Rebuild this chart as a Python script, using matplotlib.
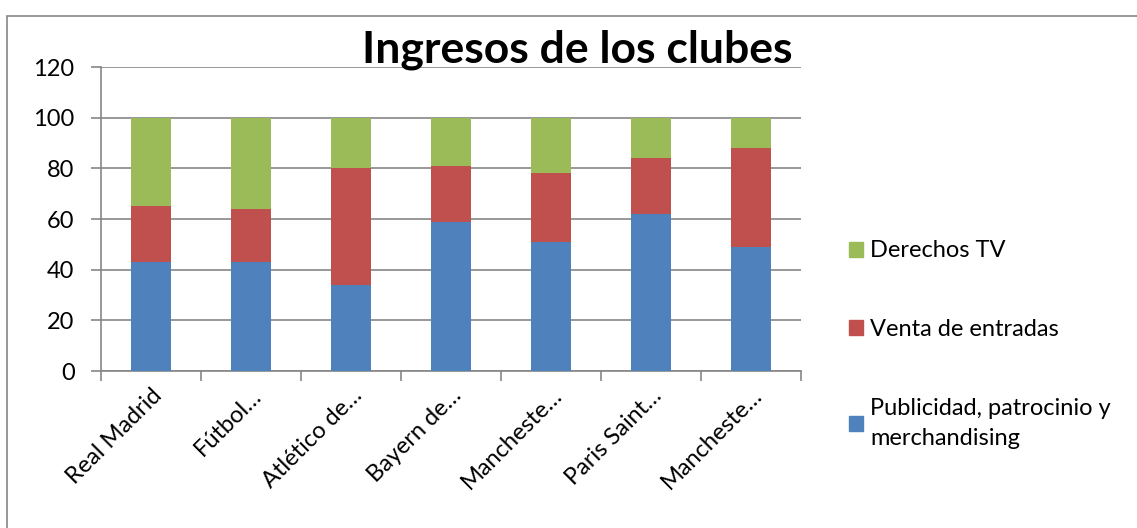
import matplotlib
matplotlib.use("Agg")
import matplotlib.pyplot as plt
from matplotlib.patches import Rectangle, Patch
import numpy as np

plt.rcParams['font.family'] = ['Lato', 'DejaVu Sans']

clubs = ["Real Madrid", "Fútbol…", "Atlético de…", "Bayern de…", "Mancheste…", "Paris Saint…", "Mancheste…"]
publicidad = [43, 43, 34, 59, 51, 62, 49]
entradas = [22, 21, 46, 22, 27, 22, 39]
derechos_tv = [35, 36, 20, 19, 22, 16, 12]
series_names = ["Publicidad, patrocinio y\nmerchandising", "Venta de entradas", "Derechos TV"]
colors = ["#4F81BD", "#C0504D", "#9BBB59"]
yticks = [0, 20, 40, 60, 80, 100, 120]

fig = plt.figure(figsize=(11.37, 5.28), dpi=100)
ax = fig.add_axes([0.0888, 0.2973, 0.6157, 0.5758])

x = np.arange(len(clubs))
ax.bar(x, publicidad, 0.4, color=colors[0], zorder=3)
ax.bar(x, entradas, 0.4, bottom=publicidad, color=colors[1], zorder=3)
bottom3 = np.array(publicidad) + np.array(entradas)
ax.bar(x, derechos_tv, 0.4, bottom=bottom3, color=colors[2], zorder=3)

ax.set_xlim(-0.5, len(clubs) - 0.5)
ax.set_ylim(0, 120)
ax.set_yticks(yticks)
ax.set_yticklabels([str(v) for v in yticks], fontsize=17)
ax.yaxis.grid(True, color="#868686", linewidth=1.2, zorder=0)
ax.set_axisbelow(True)

ax.set_xticks(np.arange(len(clubs) + 1) - 0.5)
ax.set_xticklabels([])
ax.set_xticks(x, minor=True)
ax.set_xticklabels(clubs, minor=True, rotation=45, ha="right", rotation_mode="anchor", fontsize=17)
ax.tick_params(axis="x", which="minor", length=0, pad=10)
ax.tick_params(axis="x", which="major", length=7, color="#868686", width=1.2)
ax.tick_params(axis="y", length=7, color="#868686", width=1.2, pad=12)

for s in ["top", "right"]:
    ax.spines[s].set_visible(False)
for s in ["left", "bottom"]:
    ax.spines[s].set_color("#868686")
    ax.spines[s].set_linewidth(1.2)

fig.text(0.508, 0.905, "Ingresos de los clubes", fontsize=32, fontweight="bold", ha="center", va="center")

handles = [Patch(color=colors[2]), Patch(color=colors[1]), Patch(color=colors[0])]
labels = [series_names[2], series_names[1], series_names[0]]
leg = fig.legend(handles, labels, loc="upper left", bbox_to_anchor=(0.728, 0.585), frameon=False,
                 fontsize=17, handlelength=0.6, handleheight=0.6, handletextpad=0.3,
                 labelspacing=2.45)
leg.get_texts()[2].set_linespacing(1.5)

fig.patches.append(Rectangle((7 / 1137, -0.1), 1.2, 1.1 - 16 / 528, transform=fig.transFigure,
                             fill=False, edgecolor="#868686", linewidth=1.2, clip_on=False))

fig.savefig("out.png", dpi=100)
